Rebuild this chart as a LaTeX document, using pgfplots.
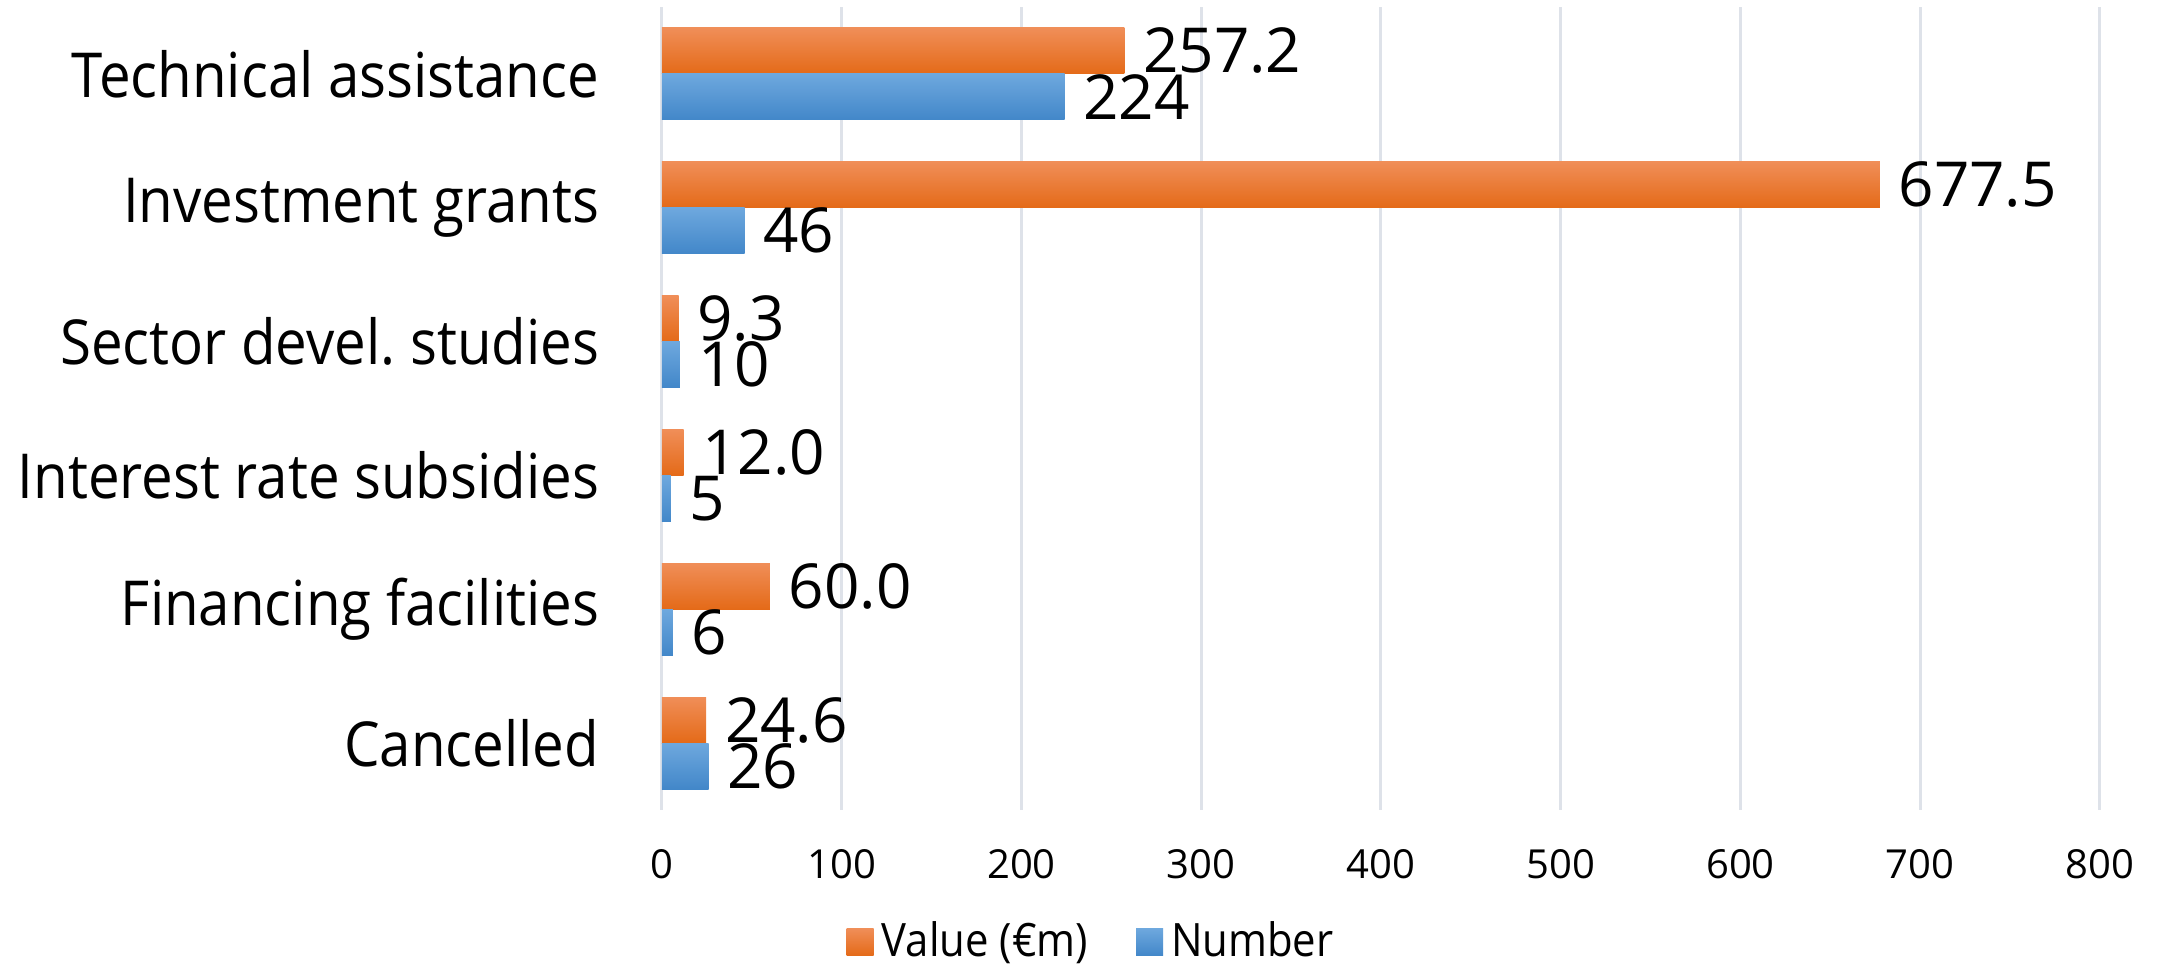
\documentclass[border=0pt]{standalone}
\usepackage{pgfplots}
\pgfplotsset{compat=1.18}
\usepackage{fontspec}
\setmainfont{Open Sans}
\newfontfamily\catfont[FakeStretch=0.91]{Open Sans}

\definecolor{gridc}{RGB}{222,226,233}
\definecolor{orTop}{RGB}{240,142,88}
\definecolor{orMid}{RGB}{240,126,46}
\definecolor{orBot}{RGB}{228,106,24}
\definecolor{blTop}{RGB}{110,168,222}
\definecolor{blMid}{RGB}{88,155,219}
\definecolor{blBot}{RGB}{66,135,201}

\pgfplotsset{
    valbar/.style={draw=none, top color=orTop, middle color=orMid, bottom color=orBot,
        bar shift=5.75pt,
        nodes near coords={\pgfmathprintnumber[fixed,fixed zerofill,precision=1]{\pgfplotspointmeta}}},
    numbar/.style={draw=none, top color=blTop, middle color=blMid, bottom color=blBot,
        bar shift=-5.75pt,
        nodes near coords={\pgfmathprintnumber[fixed,precision=0]{\pgfplotspointmeta}}},
}

\begin{document}
\begin{tikzpicture}
\begin{axis}[
    scale only axis,
    width=359.5pt, height=200.75pt,
    xbar, bar width=11.5pt,
    xmin=0, xmax=800,
    ymin=-0.5, ymax=5.5,
    xtick={0,100,...,800},
    ytick={0,1,2,3,4,5},
    yticklabels={Cancelled, Financing facilities, Interest rate subsidies,
                 Sector devel.\ studies, Investment grants, Technical assistance},
    xmajorgrids=true,
    major grid style={gridc, line width=0.75pt},
    axis line style={draw=none},
    major tick length=0pt,
    /pgf/number format/assume math mode=true,
    xticklabel style={font=\fontsize{10}{12}\selectfont, anchor=center, yshift=-13.5pt},
    yticklabel style={font=\catfont\fontsize{15.5}{18}\selectfont, anchor=east, inner sep=0pt, xshift=-15.5pt},
    every node near coord/.append style={font=\fontsize{15.5}{18}\selectfont,
        text=black, anchor=west, inner sep=0pt, xshift=4.5pt},
    legend style={at={(0.3005,-0.1644)}, anchor=center, draw=none,
        font=\catfont\fontsize{11.5}{14}\selectfont, legend columns=2,
        /tikz/every even column/.append style={column sep=10pt}},
    legend cell align=left,
    legend image code/.code={\path[#1] (0pt,-3.375pt) rectangle (6.75pt,3.375pt);},
]
\addlegendimage{valbar}
\addlegendentry{Value (€m)}
\addlegendimage{numbar}
\addlegendentry{Number}

% Value (EUR m), one bar per row so each bar gets its own gradient
\addplot[valbar, forget plot] coordinates {(24.6,0)};
\addplot[valbar, forget plot] coordinates {(60.0,1)};
\addplot[valbar, forget plot] coordinates {(12.0,2)};
\addplot[valbar, forget plot] coordinates {(9.3,3)};
\addplot[valbar, forget plot] coordinates {(677.5,4)};
\addplot[valbar, forget plot] coordinates {(257.2,5)};

% Number
\addplot[numbar, forget plot] coordinates {(26,0)};
\addplot[numbar, forget plot] coordinates {(6,1)};
\addplot[numbar, forget plot] coordinates {(5,2)};
\addplot[numbar, forget plot] coordinates {(10,3)};
\addplot[numbar, forget plot] coordinates {(46,4)};
\addplot[numbar, forget plot] coordinates {(224,5)};

\end{axis}
\pgfresetboundingbox
\path[use as bounding box] (-165.5pt,-39.5pt) rectangle (373.75pt,202.5pt);
\end{tikzpicture}
\end{document}
